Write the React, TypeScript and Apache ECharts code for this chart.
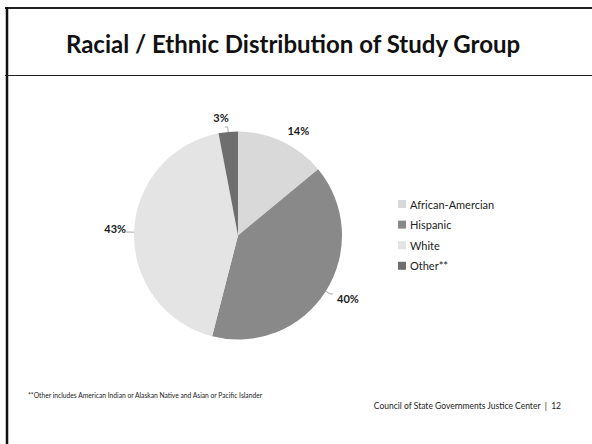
import React, { useEffect, useRef } from "react";
import * as echarts from "echarts";

const title = "Racial / Ethnic Distribution of Study Group";
const categories = ["African-Amercian", "Hispanic", "White", "Other**"];
const values = [14, 40, 43, 3];
const colors = ["#d9d9d9", "#898989", "#e4e4e4", "#6e6e6e"];
const footnote = "**Other includes American Indian or Alaskan Native and Asian or Pacific Islander";
const footer = "Council of State Governments Justice Center  |  12";
// fine label nudges (dx, dy) per slice, to match the reference's label placement
const labelNudges: [number, number][] = [[-1, -6], [3, 5], [1, -4], [5, -9]];

export default function App() {
  const ref = useRef<HTMLDivElement>(null);
  useEffect(() => {
    document.body.style.margin = "0";
    const chart = echarts.init(ref.current!, null, { renderer: "svg" });
    const font = "Lato, 'Open Sans', sans-serif";
    chart.setOption({
      animation: false,
      backgroundColor: "#ffffff",
      title: {
        text: title,
        left: 288,
        textAlign: "center",
        top: 26,
        textStyle: { fontFamily: font, fontSize: 24, fontWeight: "bold", color: "#111" },
      },
      legend: {
        orient: "vertical",
        left: 393,
        top: 193,
        itemWidth: 8,
        itemHeight: 8,
        itemGap: 8.6,
        icon: "rect",
        data: categories,
        textStyle: { fontFamily: font, fontSize: 11, color: "#222", padding: [0, 0, 0, -1], lineHeight: 12 },
      },
      graphic: [
        { type: "line", shape: { x1: 5, y1: 8, x2: 592, y2: 8 }, style: { stroke: "#222", lineWidth: 2 } },
        { type: "line", shape: { x1: 7, y1: 7, x2: 7, y2: 444 }, style: { stroke: "#111", lineWidth: 2.5 } },
        { type: "line", shape: { x1: 5, y1: 75.5, x2: 592, y2: 75.5 }, style: { stroke: "#222", lineWidth: 1 } },
        {
          type: "text",
          x: 28,
          y: 395,
          style: { text: footnote, fontFamily: font, fontSize: 6.7, fill: "#222", verticalAlign: "middle" },
        },
        {
          type: "text",
          x: 561,
          y: 406,
          style: { text: footer, fontFamily: font, fontSize: 8.5, fill: "#222", align: "right", verticalAlign: "middle" },
        },
      ],
      series: [
        {
          type: "pie",
          center: [238, 235.5],
          radius: 104,
          startAngle: 90,
          clockwise: true,
          data: categories.map((c, i) => ({
            name: c,
            value: values[i],
            itemStyle: { color: colors[i] },
            labelLine: { show: i !== 0 },
          })),
          label: {
            show: true,
            position: "outside",
            formatter: "{c}%",
            fontFamily: font,
            fontSize: 11,
            fontWeight: "bold",
            color: "#1a1a1a",
            distanceToLabelLine: 1,
          },
          labelLayout: (p: any) => ({ dx: labelNudges[p.dataIndex][0], dy: labelNudges[p.dataIndex][1] }),
          labelLine: { show: true, length: 5, length2: 3, lineStyle: { color: "#aaa", width: 1 } },
          itemStyle: { borderWidth: 0 },
          emphasis: { disabled: true },
        },
      ],
    });
    return () => chart.dispose();
  }, []);
  return <div ref={ref} style={{ position: "absolute", left: 0, top: 0, width: 592, height: 444 }} />;
}
